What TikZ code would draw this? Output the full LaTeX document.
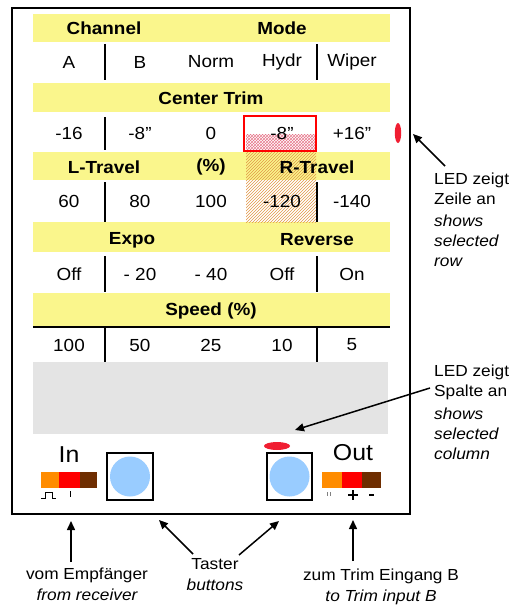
\documentclass[tikz,border=0pt]{standalone}
\usepackage{fontspec}
\setmainfont[FakeStretch=1.08]{Liberation Sans}
\usetikzlibrary{patterns,arrows.meta}

\definecolor{bandyellow}{RGB}{250,246,140}
\definecolor{panelgrey}{RGB}{228,228,228}
\definecolor{btnblue}{RGB}{153,204,255}
\definecolor{ledred}{RGB}{240,30,50}
\definecolor{sigorange}{RGB}{255,140,0}
\definecolor{sigred}{RGB}{255,0,0}
\definecolor{sigbrown}{RGB}{110,45,0}
\definecolor{hatchorange}{RGB}{225,150,70}
\definecolor{hatchpink}{RGB}{230,120,140}

\begin{document}
\begin{tikzpicture}[x=1pt,y=-1pt,
  band/.style={fill=bandyellow},
  head/.style={font=\fontsize{17.5}{19}\selectfont\bfseries,inner sep=0pt},
  val/.style={font=\fontsize{17.5}{19}\selectfont,inner sep=0pt},
  sep/.style={line width=1.3pt},
  note/.style={font=\fontsize{16}{20}\selectfont,anchor=north west,inner sep=0pt,align=left},
  caption/.style={font=\fontsize{16}{21}\selectfont,inner sep=0pt,align=center,anchor=north},
  pointer/.style={-{Triangle[length=9pt,width=8pt]},line width=1.5pt},
  tasterbox/.style={draw,line width=1.5pt,fill=white},
  io/.style={font=\fontsize{23}{25}\selectfont,inner sep=0pt},
]
\useasboundingbox (0,0) rectangle (518,610);

% yellow heading bands
\fill[band] (33,14) rectangle (390,42);
\fill[band] (33,83) rectangle (390,112);
\fill[band] (33,152) rectangle (390,180);
\fill[band] (33,222) rectangle (390,252);
\fill[band] (33,293) rectangle (390,327);
\draw[line width=1.3pt] (33,327) -- (390,327);

% grey display area
\fill[panelgrey] (33,362) rectangle (388,434);

% hatched (inactive) field and marked cell
\fill[pattern=north east lines,pattern color=hatchorange] (246,152) rectangle (316,222);
\fill[pattern=crosshatch,pattern color=hatchpink] (246,134) rectangle (315,149);
\draw[red,line width=2pt] (244,116) rectangle (316,151);

% column separators
\foreach \ya/\yb in {44/80,182/222,256/292,328/362}{
  \draw[sep] (105,\ya) -- (105,\yb);
  \draw[sep] (317,\ya) -- (317,\yb);
}
\draw[sep] (105,117) -- (105,150);

% headings
\node[head] (hchan) at (104,28) {Channel};
\node[head] (hmode) at (282,28) {Mode};
\node[head] (htrim) at (211,98) {Center Trim};
\node[head] (hlt) at (104,167) {L-Travel};
\node[head] (hpct) at (211,167) {(\%)};
\node[head] (hrt) at (317,167) {R-Travel};
\node[head] (hexpo) at (132,240) {Expo};
\node[head] (hrev) at (317,240) {Reverse};
\node[head] (hspeed) at (211,311) {Speed (\%)};

% values
\node[val] (a1) at (69,62) {A};
\node[val] (a2) at (140,62) {B};
\node[val] (a3) at (211,62) {Norm};
\node[val] (a4) at (282,62) {Hydr};
\node[val] (a5) at (352,62) {Wiper};

\node[val] (b1) at (69,133) {-16};
\node[val] (b2) at (140,133) {-8"};
\node[val] (b3) at (211,133) {0};
\node[val] (b4) at (282,133) {-8"};
\node[val] (b5) at (352,133) {+16"};

\node[val] (c1) at (69,201) {60};
\node[val] (c2) at (140,201) {80};
\node[val] (c3) at (211,201) {100};
\node[val] (c4) at (282,201) {-120};
\node[val] (c5) at (352,201) {-140};

\node[val] (d1) at (69,274) {Off};
\node[val] (d2) at (140,274) {- 20};
\node[val] (d3) at (211,274) {- 40};
\node[val] (d4) at (282,274) {Off};
\node[val] (d5) at (352,274) {On};

\node[val] (e1) at (69,345) {100};
\node[val] (e2) at (140,345) {50};
\node[val] (e3) at (211,345) {25};
\node[val] (e4) at (282,345) {10};
\node[val] (e5) at (352,345) {5};

% LEDs
\fill[ledred] (398,133) ellipse (3.2 and 10);
\fill[ledred] (277,446) ellipse (13 and 4);

% push buttons
\draw[tasterbox] (107,453) rectangle (153,500);
\fill[btnblue] (130,476.5) circle (20);
\draw[tasterbox] (267,453) rectangle (312,500);
\fill[btnblue] (289.5,476.5) circle (20);

% input signal
\node[io] (in) at (69,455) {In};
\fill[sigorange] (41,472) rectangle (59,488);
\fill[sigred] (59,472) rectangle (80,488);
\fill[sigbrown] (80,472) rectangle (97,488);
\draw[line width=1pt] (41,498) -- (45,498) -- (45,492) -- (52,492) -- (52,498) -- (56,498);
\draw[line width=1pt] (70,491) -- (70,497);

% output signal
\node[io] (out) at (353,453) {Out};
\fill[sigorange] (322,472) rectangle (342,488);
\fill[sigred] (342,472) rectangle (362,488);
\fill[sigbrown] (362,472) rectangle (381,488);
\draw[gray,line width=0.8pt] (327,492) -- (327,496) (330,492) -- (330,496);
\draw[line width=1.1pt] (348,495) -- (358,495) (353,490) -- (353,500);
\draw[line width=1.1pt] (369,495) -- (374,495);

% housing
\draw[line width=2.5pt] (12,8) rectangle (410,514);

% annotations
\node[note] (rowlbl) at (434,173) {LED zeigt\\Zeile an\\[2pt]\itshape shows\\\itshape selected\\\itshape row};
\node[note] (collbl) at (434,365) {LED zeigt\\Spalte an\\[3pt]\itshape shows\\\itshape selected\\\itshape column};
\node[caption] (recv) at (87,568) {vom Empfänger\\\itshape from receiver};
\node[caption] (taster) at (215,558) {Taster\\\itshape buttons};
\node[caption] (trim) at (381,569) {zum Trim Eingang B\\\itshape to Trim input B};

% arrow ends
\coordinate (rowtail) at (445,166);
\coordinate (rowtip) at (413,134);
\coordinate (coltail) at (430,388);
\coordinate (coltip) at (295,430);
\coordinate (recvtail) at (71,562);
\coordinate (recvtip) at (71,521);
\coordinate (tastltail) at (193,554);
\coordinate (tastltip) at (159,520);
\coordinate (tastrtail) at (239,555);
\coordinate (tastrtip) at (279,521);
\coordinate (trimtail) at (353,561);
\coordinate (trimtip) at (353,520);

\draw[pointer] (rowtail) -- (rowtip);
\draw[pointer] (coltail) -- (coltip);
\draw[pointer] (recvtail) -- (recvtip);
\draw[pointer] (tastltail) -- (tastltip);
\draw[pointer] (tastrtail) -- (tastrtip);
\draw[pointer] (trimtail) -- (trimtip);
\end{tikzpicture}
\end{document}
